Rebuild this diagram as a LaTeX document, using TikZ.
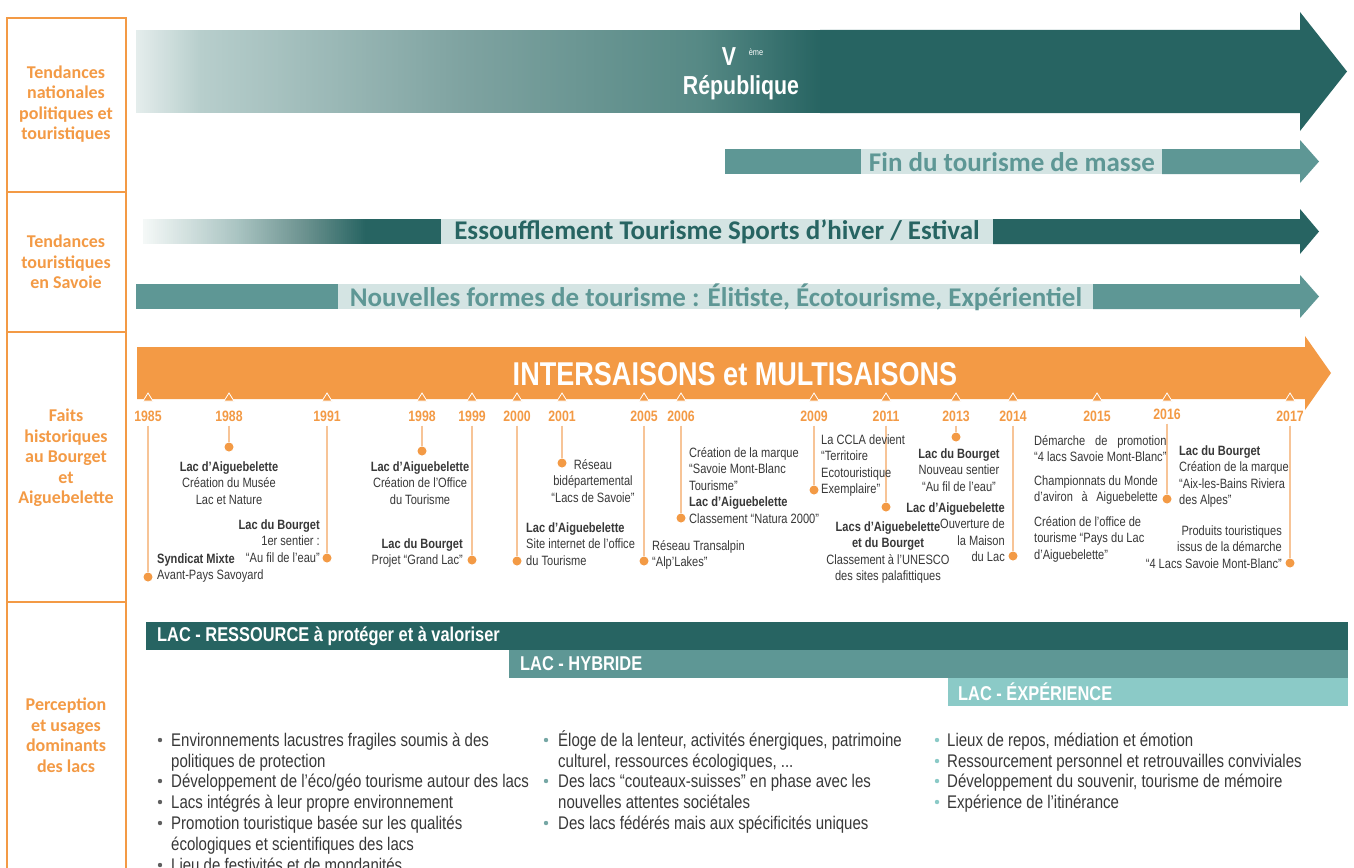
\documentclass[tikz,border=0pt]{standalone}
\usepackage{fontspec}
\usepackage{calc}
\setmainfont{Liberation Sans}
\newfontfamily\nar[FakeStretch=0.82]{Liberation Sans}
\newfontfamily\calb{Carlito}
\definecolor{dteal}{HTML}{276462}
\definecolor{mteal}{HTML}{5E9795}
\definecolor{lband}{HTML}{D4E4E3}
\definecolor{lteal}{HTML}{8BCAC7}
\definecolor{orng}{HTML}{F39A45}
\definecolor{ostem}{HTML}{F7C497}
\definecolor{txt}{HTML}{383838}
\definecolor{gA}{HTML}{E4EDEC}
\definecolor{gB}{HTML}{B7CECC}
\definecolor{gC}{HTML}{7FA3A1}
\definecolor{gD}{HTML}{568985}
\definecolor{eA}{HTML}{F4F8F7}
\definecolor{eB}{HTML}{ABC5C3}
\definecolor{eC}{HTML}{6A918E}
% horizontal gradient strip: x0, x1, ytop, ybottom, colour0, colour1
\newcommand{\gradstrip}[6]{%
  \pgfmathsetmacro{\gn}{int((#2-#1)/2)}%
  \foreach \gk in {0,...,\gn}{%
    \pgfmathsetmacro{\gp}{100*\gk/\gn}%
    \pgfmathsetmacro{\gx}{#1+2*\gk}%
    \fill[#6!\gp!#5] (\gx,#3) rectangle ({\gx+2.6},#4);%
  }%
}
\newcommand{\fs}{\rule{0pt}{0.95em}}
\begin{document}
\begin{tikzpicture}[x=1pt,y=-1pt,
 lab/.style={font=\calb\bfseries\fontsize{18}{20.5}\selectfont, text=orng, align=center, inner sep=0pt},
 arrlab/.style={font=\calb\bfseries\fontsize{27}{30}\selectfont, inner sep=0pt},
 yr/.style={font=\nar\bfseries\fontsize{15}{15}\selectfont, text=orng, inner sep=2pt},
 dotn/.style={circle, fill=orng, minimum size=9pt, inner sep=0pt},
 stem/.style={draw=ostem, line width=1.2pt, shorten <=2pt},
 tl/.style={font=\nar\fontsize{13.5}{16.5}\selectfont, text=txt, inner sep=0pt},
 tlL/.style={tl, align=left, anchor=north west},
 tlR/.style={tl, align=right, anchor=north east},
 tlC/.style={tl, align=center, anchor=north},
 tick/.style={fill=orng, draw=white, line width=0.8pt},
 barlab/.style={font=\nar\bfseries\fontsize{20}{20}\selectfont, text=white, anchor=west, inner sep=0pt},
 bul/.style={font=\nar\fontsize{18.3}{20.8}\selectfont, text=txt, align=left, anchor=north west, inner sep=0pt},
 bdot/.style={circle, minimum size=4.4pt, inner sep=0pt},
]
\useasboundingbox (0,0) rectangle (1354,867);
\clip (0,0) rectangle (1354,867);
\fill[white] (0,0) rectangle (1354,867);

% ---------- left column ----------
\draw[orng, line width=1.6pt] (7,875) -- (7,18) -- (126,18) -- (126,875);
\draw[orng, line width=1.6pt] (7,192) -- (126,192);
\draw[orng, line width=1.6pt] (7,332) -- (126,332);
\draw[orng, line width=1.6pt] (7,602) -- (126,602);
\node[lab] (lab1) at (66,104) {Tendances\\nationales\\politiques et\\touristiques};
\node[lab] (lab2) at (66,262) {Tendances\\touristiques\\en Savoie};
\node[lab] (lab3) at (66,458) {Faits\\historiques\\au Bourget\\et\\Aiguebelette};
\node[lab] (lab4) at (66,735) {Perception\\et usages\\dominants\\des lacs};

% ---------- Ve Republique ----------
\gradstrip{136}{200}{30}{113}{gA}{gB}
\gradstrip{200}{460}{30}{113}{gB}{gC}
\gradstrip{460}{700}{30}{113}{gC}{gD}
\gradstrip{700}{820}{30}{113}{gD}{dteal}
\fill[dteal] (820,30) -- (1300,30) -- (1300,12) -- (1347,71.5) -- (1300,131) -- (1300,113) -- (820,113) -- cycle;
\node[font=\nar\bfseries\fontsize{26}{26}\selectfont, text=white, inner sep=0pt] (vnum) at (729,57) {V};
\node[font=\nar\fontsize{9}{9}\selectfont, text=white, inner sep=0pt] (vsup) at (756,52) {ème};
\node[font=\nar\bfseries\fontsize{26}{26}\selectfont, text=white, inner sep=0pt] (rep) at (741,88) {République};

% ---------- Fin du tourisme de masse ----------
\fill[mteal] (725,149) rectangle (861,174);
\fill[lband] (861,149) rectangle (1162,174);
\fill[mteal] (1162,149) -- (1300,149) -- (1300,140) -- (1319,161.5) -- (1300,183) -- (1300,174) -- (1162,174) -- cycle;
\node[arrlab, text=mteal] (fin) at (1012,162) {Fin du tourisme de masse};

% ---------- Essoufflement ----------
\gradstrip{143}{235}{219}{244}{eA}{eB}
\gradstrip{235}{305}{219}{244}{eB}{eC}
\gradstrip{305}{366}{219}{244}{eC}{dteal}
\fill[dteal] (366,219) rectangle (441,244);
\fill[lband] (441,219) rectangle (993,244);
\fill[dteal] (993,219) -- (1300,219) -- (1300,209) -- (1319,231.5) -- (1300,254) -- (1300,244) -- (993,244) -- cycle;
\node[arrlab, text=dteal] (ess) at (717,232) {Essoufflement Tourisme Sports d’hiver / Estival};

% ---------- Nouvelles formes ----------
\fill[mteal] (136,284) rectangle (338,309);
\fill[lband] (338,284) rectangle (1093,309);
\fill[mteal] (1093,284) -- (1300,284) -- (1300,275) -- (1319,296.5) -- (1300,318) -- (1300,309) -- (1093,309) -- cycle;
\node[arrlab, text=mteal] (nouv) at (716,297) {Nouvelles formes de tourisme : Élitiste, Écotourisme, Expérientiel};

% ---------- Intersaisons ----------
\fill[orng] (137,347) -- (1305,347) -- (1305,336) -- (1331,373) -- (1305,410) -- (1305,399) -- (137,399) -- cycle;
\node[font=\nar\bfseries\fontsize{33}{33}\selectfont, text=white, inner sep=0pt] (inter) at (735,374) {INTERSAISONS et MULTISAISONS};

\foreach \x in {148,229,327,422,472,517,562,644,681,814,886,956,1013,1097,1167,1290}
  \filldraw[tick] (\x-5,401) -- (\x,393) -- (\x+5,401) -- cycle;

% years
\node[yr] (y1985) at (148,416) {1985};
\node[yr] (y1988) at (229,416) {1988};
\node[yr] (y1991) at (327,416) {1991};
\node[yr] (y1998) at (422,416) {1998};
\node[yr] (y1999) at (472,416) {1999};
\node[yr] (y2000) at (517,416) {2000};
\node[yr] (y2001) at (562,416) {2001};
\node[yr] (y2005) at (644,416) {2005};
\node[yr] (y2006) at (681,416) {2006};
\node[yr] (y2009) at (814,416) {2009};
\node[yr] (y2011) at (886,416) {2011};
\node[yr] (y2013) at (956,416) {2013};
\node[yr] (y2014) at (1013,416) {2014};
\node[yr] (y2015) at (1097,416) {2015};
\node[yr] (y2016) at (1167,414) {2016};
\node[yr] (y2017) at (1290,416) {2017};

% dots
\node[dotn] (d1985) at (148,577) {};
\node[dotn] (d1988) at (229,447) {};
\node[dotn] (d1991) at (327,558) {};
\node[dotn] (d1998) at (422,451) {};
\node[dotn] (d1999) at (472,560) {};
\node[dotn] (d2000) at (517,561) {};
\node[dotn] (d2001) at (562,463) {};
\node[dotn] (d2005) at (644,561) {};
\node[dotn] (d2006) at (681,518) {};
\node[dotn] (d2009) at (814,490) {};
\node[dotn] (d2011) at (886,507) {};
\node[dotn] (d2013) at (956,437) {};
\node[dotn] (d2014) at (1013,556) {};
\node[dotn] (d2016) at (1167,499) {};
\node[dotn] (d2017) at (1290,563) {};

\foreach \y in {1985,1988,1991,1998,1999,2000,2001,2005,2006,2009,2011,2013,2014,2016,2017}
  \draw[stem] (y\y) -- (d\y);

% event texts
\node[tlL] (t1985) at (157,550) {{\bfseries\fs Syndicat Mixte}\\Avant-Pays Savoyard};
\node[tlC] (t1988) at (229,458) {{\bfseries\fs Lac d’Aiguebelette}\\Création du Musée\\Lac et Nature};
\node[tlR] (t1991) at (320,516) {{\bfseries\fs Lac du Bourget}\\1er sentier :\\“Au fil de l’eau”};
\node[tlC] (t1998) at (420,458) {{\bfseries\fs Lac d’Aiguebelette}\\Création de l’Office\\du Tourisme};
\node[tlR] (t1999) at (463,535) {{\bfseries\fs Lac du Bourget}\\Projet “Grand Lac”};
\node[tlL] (t2000) at (526,519) {{\bfseries\fs Lac d’Aiguebelette}\\Site internet de l’office\\du Tourisme};
\node[tlC] (t2001) at (593,456) {\fs Réseau\\bidépartemental\\“Lacs de Savoie”};
\node[tlL] (t2005) at (652,537) {\fs Réseau Transalpin\\“Alp’Lakes”};
\node[tlL] (t2006) at (689,444) {\fs Création de la marque\\“Savoie Mont-Blanc\\Tourisme”\\{\bfseries Lac d’Aiguebelette}\\Classement “Natura 2000”};
\node[tlL] (t2009) at (821,431) {\fs La CCLA devient\\“Territoire\\Ecotouristique\\Exemplaire”};
\node[tlC] (t2011) at (888,518) {{\bfseries\fs Lacs d’Aiguebelette}\\{\bfseries et du Bourget}\\Classement à l’UNESCO\\des sites palafittiques};
\node[tlC] (t2013) at (959,445) {{\bfseries\fs Lac du Bourget}\\Nouveau sentier\\“Au fil de l’eau”};
\node[tlR] (t2014) at (1005,499) {{\bfseries\fs Lac d’Aiguebelette}\\Ouverture de\\la Maison\\du Lac};
\node[tlL] (t2015a) at (1034,432) {\fs\makebox[\widthof{“4 lacs Savoie Mont-Blanc”}][s]{Démarche de promotion}\\“4 lacs Savoie Mont-Blanc”};
\node[tlL] (t2015b) at (1034,472) {\fs Championnats du Monde\\\makebox[\widthof{Championnats du Monde}][s]{d’aviron à Aiguebelette}};
\node[tlL] (t2015c) at (1034,513) {\fs Création de l’office de\\tourisme “Pays du Lac\\d’Aiguebelette”};
\node[tlL] (t2016) at (1179,442) {{\bfseries\fs Lac du Bourget}\\Création de la marque\\“Aix-les-Bains Riviera\\des Alpes”};
\node[tlR] (t2017) at (1282,522) {\fs Produits touristiques\\issus de la démarche\\“4 Lacs Savoie Mont-Blanc”};

% ---------- bottom bars ----------
\fill[dteal] (146,622) rectangle (1348,650);
\fill[mteal] (509,650) rectangle (1348,678);
\fill[lteal] (948,678) rectangle (1348,706);
\node[barlab] (bres) at (157,636) {LAC - RESSOURCE à protéger et à valoriser};
\node[barlab] (bhyb) at (520,664) {LAC - HYBRIDE};
\node[barlab] (bexp) at (958,692) {LAC - ÉXPÉRIENCE};

% column 1
\node[bdot, fill=txt!80] (p1a) at (160,740) {};
\node[bul] (c1a) at (171,729.4) {\fs Environnements lacustres fragiles soumis à des\\politiques de protection};
\node[bdot, fill=txt!80] (p1b) at (160,781) {};
\node[bul] (c1b) at (171,770.4) {\fs Développement de l’éco/géo tourisme autour des lacs};
\node[bdot, fill=txt!80] (p1c) at (160,802) {};
\node[bul] (c1c) at (171,791.4) {\fs Lacs intégrés à leur propre environnement};
\node[bdot, fill=txt!80] (p1d) at (160,823) {};
\node[bul] (c1d) at (171,812.4) {\fs Promotion touristique basée sur les qualités\\écologiques et scientifiques des lacs};
\node[bdot, fill=txt!80] (p1e) at (160,865) {};
\node[bul] (c1e) at (171,854.4) {\fs Lieu de festivités et de mondanités};

% column 2
\node[bdot, fill=mteal!85] (p2a) at (546,740) {};
\node[bul] (c2a) at (558,729.4) {\fs Éloge de la lenteur, activités énergiques, patrimoine\\culturel, ressources écologiques, ...};
\node[bdot, fill=mteal!85] (p2b) at (546,781) {};
\node[bul] (c2b) at (558,770.4) {\fs Des lacs “couteaux-suisses” en phase avec les\\nouvelles attentes sociétales};
\node[bdot, fill=mteal!85] (p2c) at (546,823) {};
\node[bul] (c2c) at (558,812.4) {\fs Des lacs fédérés mais aux spécificités uniques};

% column 3
\node[bdot, fill=lteal] (p3a) at (937,740) {};
\node[bul] (c3a) at (947,729.4) {\fs Lieux de repos, médiation et émotion};
\node[bdot, fill=lteal] (p3b) at (937,761) {};
\node[bul] (c3b) at (947,750.4) {\fs Ressourcement personnel et retrouvailles conviviales};
\node[bdot, fill=lteal] (p3c) at (937,781) {};
\node[bul] (c3c) at (947,770.4) {\fs Développement du souvenir, tourisme de mémoire};
\node[bdot, fill=lteal] (p3d) at (937,802) {};
\node[bul] (c3d) at (947,791.4) {\fs Expérience de l’itinérance};
\end{tikzpicture}
\end{document}
